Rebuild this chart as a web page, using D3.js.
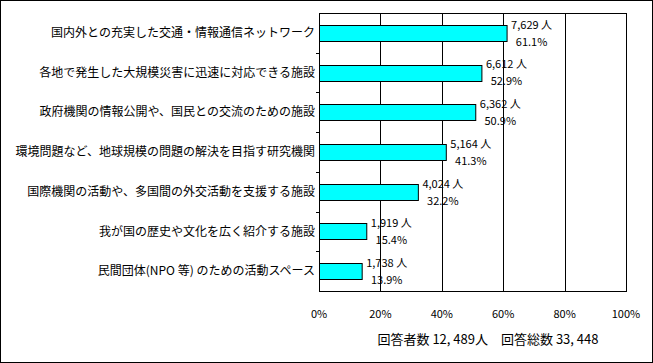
<!DOCTYPE html>
<html>
<head>
<meta charset="utf-8">
<script src="https://cdn.jsdelivr.net/npm/d3@7"></script>
<style>
  body { margin: 0; background: #fff; }
  svg { display: block; font-family: "Noto Sans CJK JP", sans-serif; }
</style>
</head>
<body>
<svg id="chart" width="653" height="363"></svg>
<script>
const categories = [
  '国内外との充実した交通・情報通信ネットワーク',
  '各地で発生した大規模災害に迅速に対応できる施設',
  '政府機関の情報公開や、国民との交流のための施設',
  '環境問題など、地球規模の問題の解決を目指す研究機関',
  '国際機関の活動や、多国間の外交活動を支援する施設',
  '我が国の歴史や文化を広く紹介する施設',
  '民間団体(NPO 等) のための活動スペース'
];
const counts = [7629, 6612, 6362, 5164, 4024, 1919, 1738];
const percents = [61.1, 52.9, 50.9, 41.3, 32.2, 15.4, 13.9];
const tickValues = [0, 20, 40, 60, 80, 100];
const footer = '回答者数 12, 489人　回答総数 33, 448';

const svg = d3.select('#chart');
const width = 653, height = 363;
const margin = { top: 13, right: 27, bottom: 72, left: 319 };
const plotW = width - margin.left - margin.right;
const plotH = height - margin.top - margin.bottom;

// outer frame
svg.append('rect')
  .attr('x', 0.5).attr('y', 0.5)
  .attr('width', width - 1).attr('height', height - 1)
  .attr('fill', '#fff').attr('stroke', '#000');

const g = svg.append('g')
  .attr('transform', `translate(${margin.left},${margin.top})`);

const x = d3.scaleLinear().domain([0, 100]).range([0, plotW]);
const y = d3.scaleBand().domain(categories).range([0, plotH]).paddingInner(0.6).paddingOuter(0.3);
const yb = d3.scaleBand().domain(categories).range([0, plotH]);

// grid lines
g.selectAll('.grid')
  .data(tickValues.slice(1, -1))
  .enter().append('line')
  .attr('x1', d => Math.round(x(d)) + 0.5).attr('x2', d => Math.round(x(d)) + 0.5)
  .attr('y1', 0).attr('y2', plotH)
  .attr('stroke', '#000');

// plot border
g.append('rect')
  .attr('x', 0.5).attr('y', 0.5)
  .attr('width', plotW).attr('height', plotH)
  .attr('fill', 'none').attr('stroke', '#000');

// category ticks at band boundaries
g.selectAll('.ytick')
  .data(categories.slice(1))
  .enter().append('line')
  .attr('x1', -3).attr('x2', 0)
  .attr('y1', d => Math.round(yb(d)) + 0.5).attr('y2', d => Math.round(yb(d)) + 0.5)
  .attr('stroke', '#000');

// bars
g.selectAll('.bar')
  .data(categories)
  .enter().append('rect')
  .attr('x', 0.5)
  .attr('y', d => Math.round(y(d)) + 0.5)
  .attr('width', (d, i) => x(percents[i]))
  .attr('height', Math.round(y.bandwidth()))
  .attr('fill', '#00ffff')
  .attr('stroke', '#000');

// category labels
g.selectAll('.cat')
  .data(categories)
  .enter().append('text')
  .attr('x', -4)
  .attr('y', d => yb(d) + yb.bandwidth() / 2)
  .attr('dy', '0.35em')
  .attr('text-anchor', 'end')
  .attr('font-size', 12)
  .text(d => d);

// value labels
const vals = g.selectAll('.val')
  .data(categories)
  .enter().append('g')
  .attr('transform', (d, i) => `translate(${x(percents[i]) + 25},${yb(d) + yb.bandwidth() / 2})`);
vals.append('text')
  .attr('y', -8).attr('dy', '0.35em')
  .attr('text-anchor', 'middle').attr('font-size', 11)
  .text((d, i) => `${d3.format(',')(counts[i])} 人`);
vals.append('text')
  .attr('y', 9).attr('dy', '0.35em')
  .attr('text-anchor', 'middle').attr('font-size', 11)
  .text((d, i) => `${percents[i].toFixed(1)}%`);

// x axis labels
g.selectAll('.xlab')
  .data(tickValues)
  .enter().append('text')
  .attr('x', d => x(d))
  .attr('y', plotH + 23)
  .attr('dy', '0.35em')
  .attr('text-anchor', 'middle')
  .attr('font-size', 11)
  .text(d => `${d}%`);

// footer
svg.append('text')
  .attr('x', 488).attr('y', 339)
  .attr('dy', '0.35em')
  .attr('text-anchor', 'middle')
  .attr('font-size', 13)
  .text(footer);
</script>
</body>
</html>
